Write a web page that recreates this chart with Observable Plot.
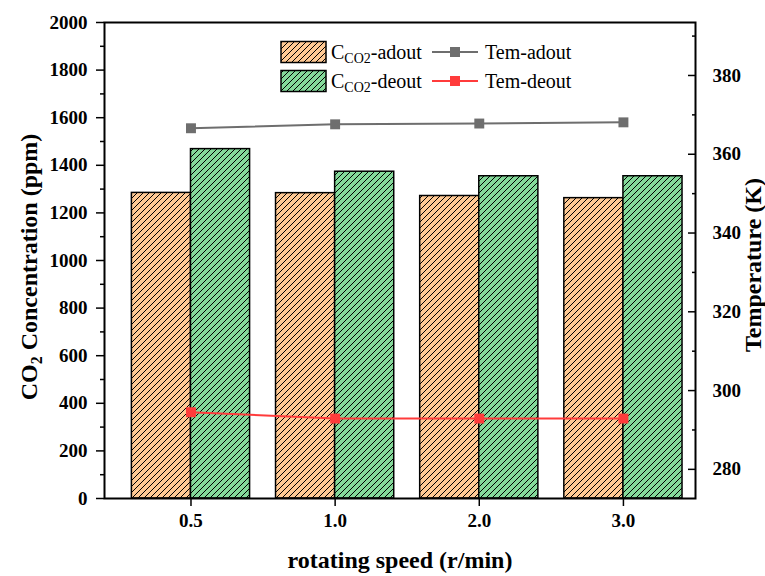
<!DOCTYPE html>
<html>
<head>
<meta charset="utf-8">
<script src="https://cdn.jsdelivr.net/npm/d3@7"></script>
<script src="https://cdn.jsdelivr.net/npm/@observablehq/plot@0.6"></script>
<style>
  body { margin: 0; background: white; }
  #chart { width: 765px; height: 576px; }
</style>
</head>
<body>
<div id="chart"></div>
<script>
const categories = ["0.5", "1.0", "2.0", "3.0"];
const co2Adout = [1284, 1283, 1271, 1262];
const co2Deout = [1468, 1373, 1354, 1354];
const temAdout = [366.6, 367.6, 367.8, 368.1];
const temDeout = [294.5, 292.9, 292.9, 292.9];
const ppmTicks = [0, 200, 400, 600, 800, 1000, 1200, 1400, 1600, 1800, 2000];
const ppmMinor = [100, 300, 500, 700, 900, 1100, 1300, 1500, 1700, 1900];
const tempTicks = [280, 300, 320, 340, 360, 380];
const tempMinor = [290, 310, 330, 350, 370, 390];
const tempDomain = [272.6, 393.45];
const ppmDomain = [0, 2000];

const tToY = t => (t - tempDomain[0]) / (tempDomain[1] - tempDomain[0]) * (ppmDomain[1] - ppmDomain[0]) + ppmDomain[0];

const data = categories.map((c, i) => ({
  i, c, adout: co2Adout[i], deout: co2Deout[i], tAd: temAdout[i], tDe: temDeout[i]
}));
const catIdx = categories.map((c, i) => i);

const barW = 0.41;
const grayC = "#6e6e6e";
const redC = "#ff3b3b";
const FONT = "Liberation Serif";
const TICKFS = 19;
const tickText = { fontFamily: FONT, fontSize: TICKFS, fontWeight: "bold", fill: "black" };

const svg = Plot.plot({
  width: 765,
  height: 576,
  marginLeft: 104,
  marginRight: 70,
  marginTop: 22,
  marginBottom: 78,
  style: { fontFamily: FONT, fontWeight: "bold", color: "black", background: "white" },
  x: { type: "linear", domain: [-0.6, 3.5] },
  y: { domain: ppmDomain },
  marks: [
    Plot.rectY(data, { x1: d => d.i - barW, x2: d => d.i, y1: 0, y2: "adout", fill: "url(#hatchOrange)", stroke: "black", strokeWidth: 1.5 }),
    Plot.rectY(data, { x1: d => d.i, x2: d => d.i + barW, y1: 0, y2: "deout", fill: "url(#hatchGreen)", stroke: "black", strokeWidth: 1.5 }),
    Plot.line(data, { x: "i", y: d => tToY(d.tAd), stroke: grayC, strokeWidth: 2 }),
    Plot.dot(data, { x: "i", y: d => tToY(d.tAd), symbol: "square", r: 5.6, fill: grayC, stroke: "none" }),
    Plot.line(data, { x: "i", y: d => tToY(d.tDe), stroke: redC, strokeWidth: 2 }),
    Plot.dot(data, { x: "i", y: d => tToY(d.tDe), symbol: "square", r: 5.6, fill: redC, stroke: "none" }),
    // tick marks
    Plot.axisY({ ticks: ppmTicks, tickSize: 8, text: null, label: null, strokeWidth: 1.5 }),
    Plot.axisY({ ticks: ppmMinor, tickSize: 4, text: null, label: null, strokeWidth: 1.5 }),
    Plot.axisY({ anchor: "right", ticks: tempTicks.map(tToY), tickSize: -8, text: null, label: null, strokeWidth: 1.5 }),
    Plot.axisY({ anchor: "right", ticks: tempMinor.map(tToY), tickSize: -4, text: null, label: null, strokeWidth: 1.5 }),
    Plot.axisX({ ticks: catIdx, tickSize: 8, text: null, label: null, strokeWidth: 1.5 }),
    // tick labels
    Plot.text(ppmTicks, { y: d => d, text: d => String(d), frameAnchor: "left", textAnchor: "end", dx: -17, ...tickText }),
    Plot.text(tempTicks, { y: d => tToY(d), text: d => String(d), frameAnchor: "right", textAnchor: "start", dx: 17, ...tickText }),
    Plot.text(catIdx, { x: d => d, text: d => categories[d], frameAnchor: "bottom", lineAnchor: "top", dy: 15, ...tickText }),
    Plot.frame({ stroke: "black", strokeWidth: 2 })
  ]
});

const s = d3.select(svg);
const defs = s.insert("defs", ":first-child");
function hatch(id, color) {
  const p = defs.append("pattern")
    .attr("id", id)
    .attr("patternUnits", "userSpaceOnUse")
    .attr("width", 6).attr("height", 6);
  p.append("rect").attr("width", 6).attr("height", 6).attr("fill", color);
  p.append("path").attr("d", "M-1,1L1,-1M0,6L6,0M5,7L7,5")
    .attr("stroke", "black").attr("stroke-width", 1).attr("fill", "none");
}
hatch("hatchOrange", "#ffc994");
hatch("hatchGreen", "#84d99a");

// Axis titles
const left = s.append("text")
  .attr("transform", "translate(37,267) rotate(-90)")
  .attr("text-anchor", "middle")
  .attr("font-family", FONT).attr("font-weight", "bold").attr("font-size", 24).attr("fill", "black");
left.append("tspan").text("CO");
left.append("tspan").attr("font-size", 16).attr("dy", 5).text("2");
left.append("tspan").attr("dy", -5).text(" Concentration (ppm)");

s.append("text")
  .attr("transform", "translate(761,265) rotate(-90)")
  .attr("text-anchor", "middle")
  .attr("font-family", FONT).attr("font-weight", "bold").attr("font-size", 24).attr("fill", "black")
  .text("Temperature (K)");

s.append("text")
  .attr("x", 400).attr("y", 568)
  .attr("text-anchor", "middle")
  .attr("font-family", FONT).attr("font-weight", "bold").attr("font-size", 24).attr("fill", "black")
  .text("rotating speed (r/min)");

// Legend
const lg = s.append("g")
  .attr("font-family", FONT).attr("font-size", 20).attr("font-weight", "normal")
  .attr("text-anchor", "start").attr("fill", "black");
const rows = [
  { y: 52, pat: "url(#hatchOrange)", sub: "-adout", line: grayC, name: "Tem-adout" },
  { y: 81, pat: "url(#hatchGreen)", sub: "-deout", line: redC, name: "Tem-deout" }
];
rows.forEach(r => {
  lg.append("rect").attr("x", 281).attr("y", r.y - 10.5).attr("width", 45).attr("height", 21)
    .attr("fill", r.pat).attr("stroke", "black").attr("stroke-width", 1.5);
  const t = lg.append("text").attr("x", 331).attr("y", r.y + 7);
  t.append("tspan").text("C");
  t.append("tspan").attr("font-size", 14).attr("dy", 4).text("CO2");
  t.append("tspan").attr("dy", -4).text(r.sub);
  lg.append("line").attr("x1", 432).attr("x2", 478).attr("y1", r.y).attr("y2", r.y)
    .attr("stroke", r.line).attr("stroke-width", 2);
  lg.append("rect").attr("x", 450).attr("y", r.y - 5).attr("width", 10).attr("height", 10).attr("fill", r.line);
  lg.append("text").attr("x", 485).attr("y", r.y + 7).text(r.name);
});

document.getElementById("chart").appendChild(svg);
</script>
</body>
</html>
